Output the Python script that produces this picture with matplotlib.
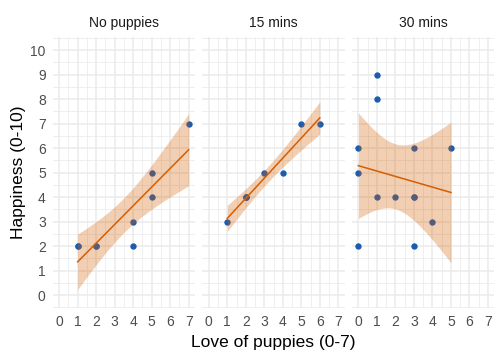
import numpy as np
import matplotlib
matplotlib.use("Agg")
import matplotlib.pyplot as plt
from matplotlib.ticker import MultipleLocator

# data (repeated rows = overlapping points)
groups = ["No puppies", "15 mins", "30 mins"]
love_none = [1, 1, 2, 2, 4, 4, 5, 5, 7]
happy_none = [2, 2, 2, 2, 2, 3, 4, 5, 7]
love_15 = [1, 2, 2, 2, 3, 4, 5, 6]
happy_15 = [3, 4, 4, 4, 5, 5, 7, 7]
love_30 = [0, 0, 0, 1, 1, 1, 2, 3, 3, 3, 3, 4, 5]
happy_30 = [2, 5, 6, 9, 8, 4, 4, 6, 4, 4, 2, 3, 6]
x_ticks = list(range(0, 8))
y_ticks = list(range(0, 11))

# 97.5% t quantiles by degrees of freedom (no scipy here)
T975 = {6: 2.447, 7: 2.365, 11: 2.201}

POINT = "#1C5CB0"
LINE = "#D55E00"
GRID = "#EBEBEB"

plt.rcParams["font.family"] = ["Liberation Sans", "DejaVu Sans"]


def lm_band(x, y, n_grid=80):
    """Straight line fit with a 95% confidence ribbon, like geom_smooth(method='lm')."""
    x = np.asarray(x, float)
    y = np.asarray(y, float)
    n = len(x)
    slope, icpt = np.polyfit(x, y, 1)
    resid = y - (icpt + slope * x)
    s = np.sqrt((resid ** 2).sum() / (n - 2))
    sxx = ((x - x.mean()) ** 2).sum()
    xs = np.linspace(x.min(), x.max(), n_grid)
    fit = icpt + slope * xs
    half = T975[n - 2] * s * np.sqrt(1 / n + (xs - x.mean()) ** 2 / sxx)
    return xs, fit, fit - half, fit + half


fig, axes = plt.subplots(1, 3, figsize=(5.04, 3.6), dpi=100, sharey=True)
fig.subplots_adjust(left=0.1045, right=0.981, top=0.896, bottom=0.145, wspace=0.05)

data = [(love_none, happy_none), (love_15, happy_15), (love_30, happy_30)]
for ax, name, (xv, yv) in zip(axes, groups, data):
    ax.scatter(xv, yv, s=21, color=POINT, linewidths=0, zorder=2)
    xs, fit, lo, hi = lm_band(xv, yv)
    ax.fill_between(xs, lo, hi, color=LINE, alpha=0.3, linewidth=0, zorder=3)
    ax.plot(xs, fit, color=LINE, lw=1.1, zorder=4)

    ax.set_xlim(-0.35, 7.35)
    ax.set_ylim(-0.52, 10.52)
    ax.set_xticks(x_ticks)
    ax.set_yticks(y_ticks)
    ax.xaxis.set_minor_locator(MultipleLocator(0.5))
    ax.yaxis.set_minor_locator(MultipleLocator(0.5))
    ax.grid(True, which="major", color=GRID, lw=1.1, zorder=0)
    ax.grid(True, which="minor", color=GRID, lw=0.55, zorder=0)
    ax.set_axisbelow(True)
    for sp in ax.spines.values():
        sp.set_visible(False)
    ax.tick_params(which="both", length=0, labelsize=10, labelcolor="#4D4D4D", pad=5)
    ax.text(0.5, 1.052, name, transform=ax.transAxes, ha="center", va="center",
            fontsize=10, color="#1A1A1A")

fig.text(0.542, 0.048, "Love of puppies (0-7)", ha="center", va="center", fontsize=12.5)
fig.text(0.036, 0.522, "Happiness (0-10)", ha="center", va="center", rotation=90, fontsize=12.5)

fig.savefig("out.png", dpi=100, facecolor="white")
plt.close(fig)
